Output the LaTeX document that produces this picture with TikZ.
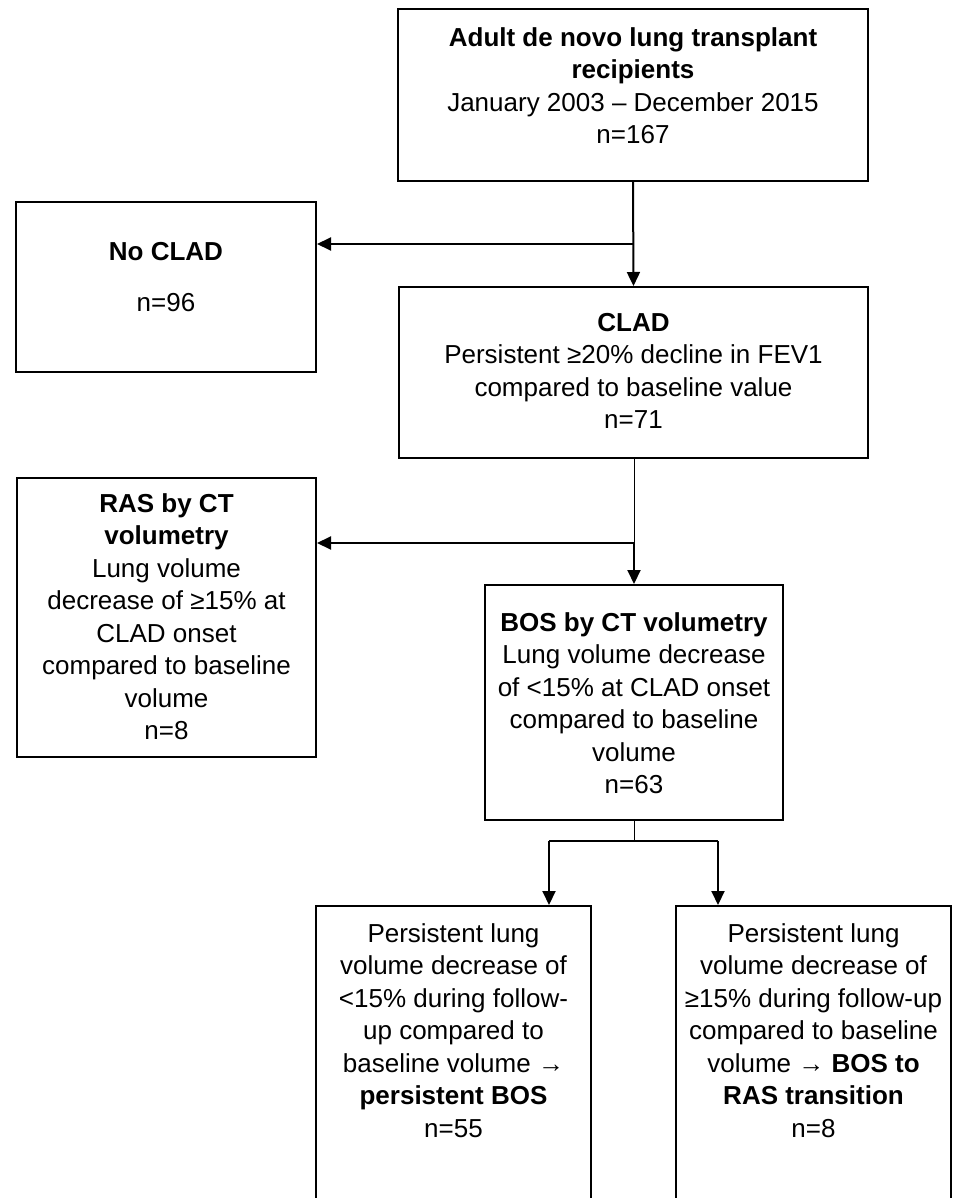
\documentclass[tikz,border=0pt]{standalone}
\usepackage{fontspec}
\setmainfont{Liberation Sans}
\usetikzlibrary{arrows.meta}
\tikzset{
  boxnode/.style={draw=black, line width=2pt, rectangle, inner sep=0pt, fill=none},
  txt/.style={anchor=north, align=center, inner sep=0pt, text=black,
              font=\fontsize{26}{32.5}\selectfont},
  thickconn/.style={draw=black, line width=2pt},
  thinconn/.style={draw=black, line width=1pt},
  arr/.style={thickconn, -{Triangle[length=14pt,width=13pt]}}
}
\begin{document}
\begin{tikzpicture}[x=1pt,y=-1pt]
\useasboundingbox (0,0) rectangle (974,1198);
\clip (0,0) rectangle (974,1198);
\fill[white] (0,0) rectangle (974,1198);

% boxes
\node[boxnode, minimum width=470pt, minimum height=172pt] (top) at (633,95) {};
\node[boxnode, minimum width=300pt, minimum height=170pt] (noclad) at (166,287) {};
\node[boxnode, minimum width=469pt, minimum height=171pt] (clad) at (633.5,372.5) {};
\node[boxnode, minimum width=299pt, minimum height=279pt] (ras) at (166.5,617.5) {};
\node[boxnode, minimum width=298pt, minimum height=235pt] (bos) at (634,702.5) {};
\node[boxnode, minimum width=275pt, minimum height=334pt] (bl) at (453.5,1073) {};
\node[boxnode, minimum width=275pt, minimum height=334pt] (br) at (813.5,1073) {};

% texts
\node[txt] (toptxt) at (633,27) {\textbf{Adult de novo lung transplant}\\\textbf{recipients}\\January 2003 – December 2015\\n=167};
\node[txt] (nocladtxt) at (166,242) {\textbf{No CLAD}};
\node[txt] (nocladn) at (166,293) {n=96};
\node[txt] (cladtxt) at (633.5,313) {\textbf{CLAD}\\Persistent ≥20\% decline in FEV1\\compared to baseline value\\n=71};
\node[txt] (rastxt) at (166.5,493) {\textbf{RAS by CT}\\\textbf{volumetry}\\Lung volume\\decrease of ≥15\% at\\CLAD onset\\compared to baseline\\volume\\n=8};
\node[txt] (bostxt) at (634,612) {\textbf{BOS by CT volumetry}\\Lung volume decrease\\of <15\% at CLAD onset\\compared to baseline\\volume\\n=63};
\node[txt] (bltxt) at (453.5,923) {Persistent lung\\volume decrease of\\<15\% during follow-\\up compared to\\baseline volume →\\\textbf{persistent BOS}\\n=55};
\node[txt] (brtxt) at (813.5,923) {Persistent lung\\volume decrease of\\≥15\% during follow-up\\compared to baseline\\volume → \textbf{BOS to}\\\textbf{RAS transition}\\n=8};

% connectors
\coordinate (j1) at (633,244);
\draw[arr] (top.south) -- (clad.north);
\draw[arr] (j1) -- (j1 -| noclad.east);

\coordinate (j2) at (634,543);
\draw[thinconn] (clad.south -| j2) -- (j2);
\draw[arr] (j2) -- (bos.north);
\draw[arr] (j2) -- (j2 -| ras.east);

\coordinate (j3) at (634,841);
\coordinate (j3l) at (549,841);
\coordinate (j3r) at (718,841);
\draw[thinconn] (bos.south) -- (j3);
\draw[thickconn] (j3l) -- (j3r);
\draw[arr] (j3l) -- (j3l |- bl.north);
\draw[arr] (j3r) -- (j3r |- br.north);
\end{tikzpicture}
\end{document}
